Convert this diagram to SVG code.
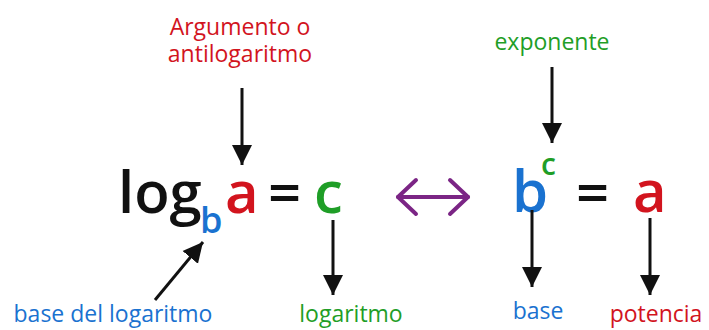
<svg xmlns="http://www.w3.org/2000/svg" width="709" height="330" viewBox="0 0 709 330">
<defs>
<style>
.lbl{font-family:"Open Sans","Liberation Sans",sans-serif;font-size:23px;text-anchor:middle}
.big{font-family:"Open Sans","Liberation Sans",sans-serif;font-size:58px;font-weight:600}
.red{fill:#d2141e}.green{fill:#1f9e27}.blue{fill:#1a72d0}.black{fill:#111}
.arr{stroke:#111;stroke-width:3;fill:none;marker-end:url(#ah)}
</style>
<marker id="ah" viewBox="0 0 10 10" refX="10" refY="5" markerUnits="userSpaceOnUse" markerWidth="20" markerHeight="22" orient="auto">
<path d="M0,0 L10,5 L0,10 z" fill="#111"/>
</marker>
</defs>
<rect width="709" height="330" fill="#fff"/>
<g id="label-argumento">
<text class="lbl red"><tspan x="240" y="35">Argumento o</tspan><tspan x="240" y="62">antilogaritmo</tspan></text>
</g>
<g id="label-exponente"><text class="lbl green" x="552" y="50">exponente</text></g>
<g id="formula-log">
<text class="big black" x="118" y="213">log<tspan class="blue" x="200" y="233" style="font-size:36px">b</tspan><tspan class="red" x="225" y="213">a</tspan><tspan class="black" x="268" y="213">=</tspan><tspan class="green" x="314" y="213">c</tspan></text>
</g>
<g id="formula-exp">
<text class="big blue" x="512" y="212">b<tspan class="green" x="541" y="175" style="font-size:30px">c</tspan><tspan class="black" x="576" y="213">=</tspan><tspan class="red" x="633" y="212">a</tspan></text>
</g>
<g id="label-base-log"><text class="lbl blue" x="113" y="322">base del logaritmo</text></g>
<g id="label-logaritmo"><text class="lbl green" x="351" y="322">logaritmo</text></g>
<g id="label-base"><text class="lbl blue" x="538" y="319">base</text></g>
<g id="label-potencia"><text class="lbl red" x="656" y="322">potencia</text></g>
<g id="connectors">
<line class="arr" x1="242" y1="88" x2="242" y2="165"/>
<line class="arr" x1="552" y1="67" x2="552" y2="143"/>
<line class="arr" x1="155" y1="300" x2="203" y2="242"/>
<line class="arr" x1="333" y1="220" x2="333" y2="295"/>
<line class="arr" x1="532" y1="210" x2="532" y2="287"/>
<line class="arr" x1="650" y1="218" x2="650" y2="295"/>
<g stroke="#7b2585" stroke-width="4" fill="none" stroke-linecap="round" stroke-linejoin="round">
<line x1="398" y1="197" x2="468" y2="197"/>
<polyline points="416,180 398,197 416,214"/>
<polyline points="450,180 468,197 450,214"/>
</g>
</g>
</svg>
